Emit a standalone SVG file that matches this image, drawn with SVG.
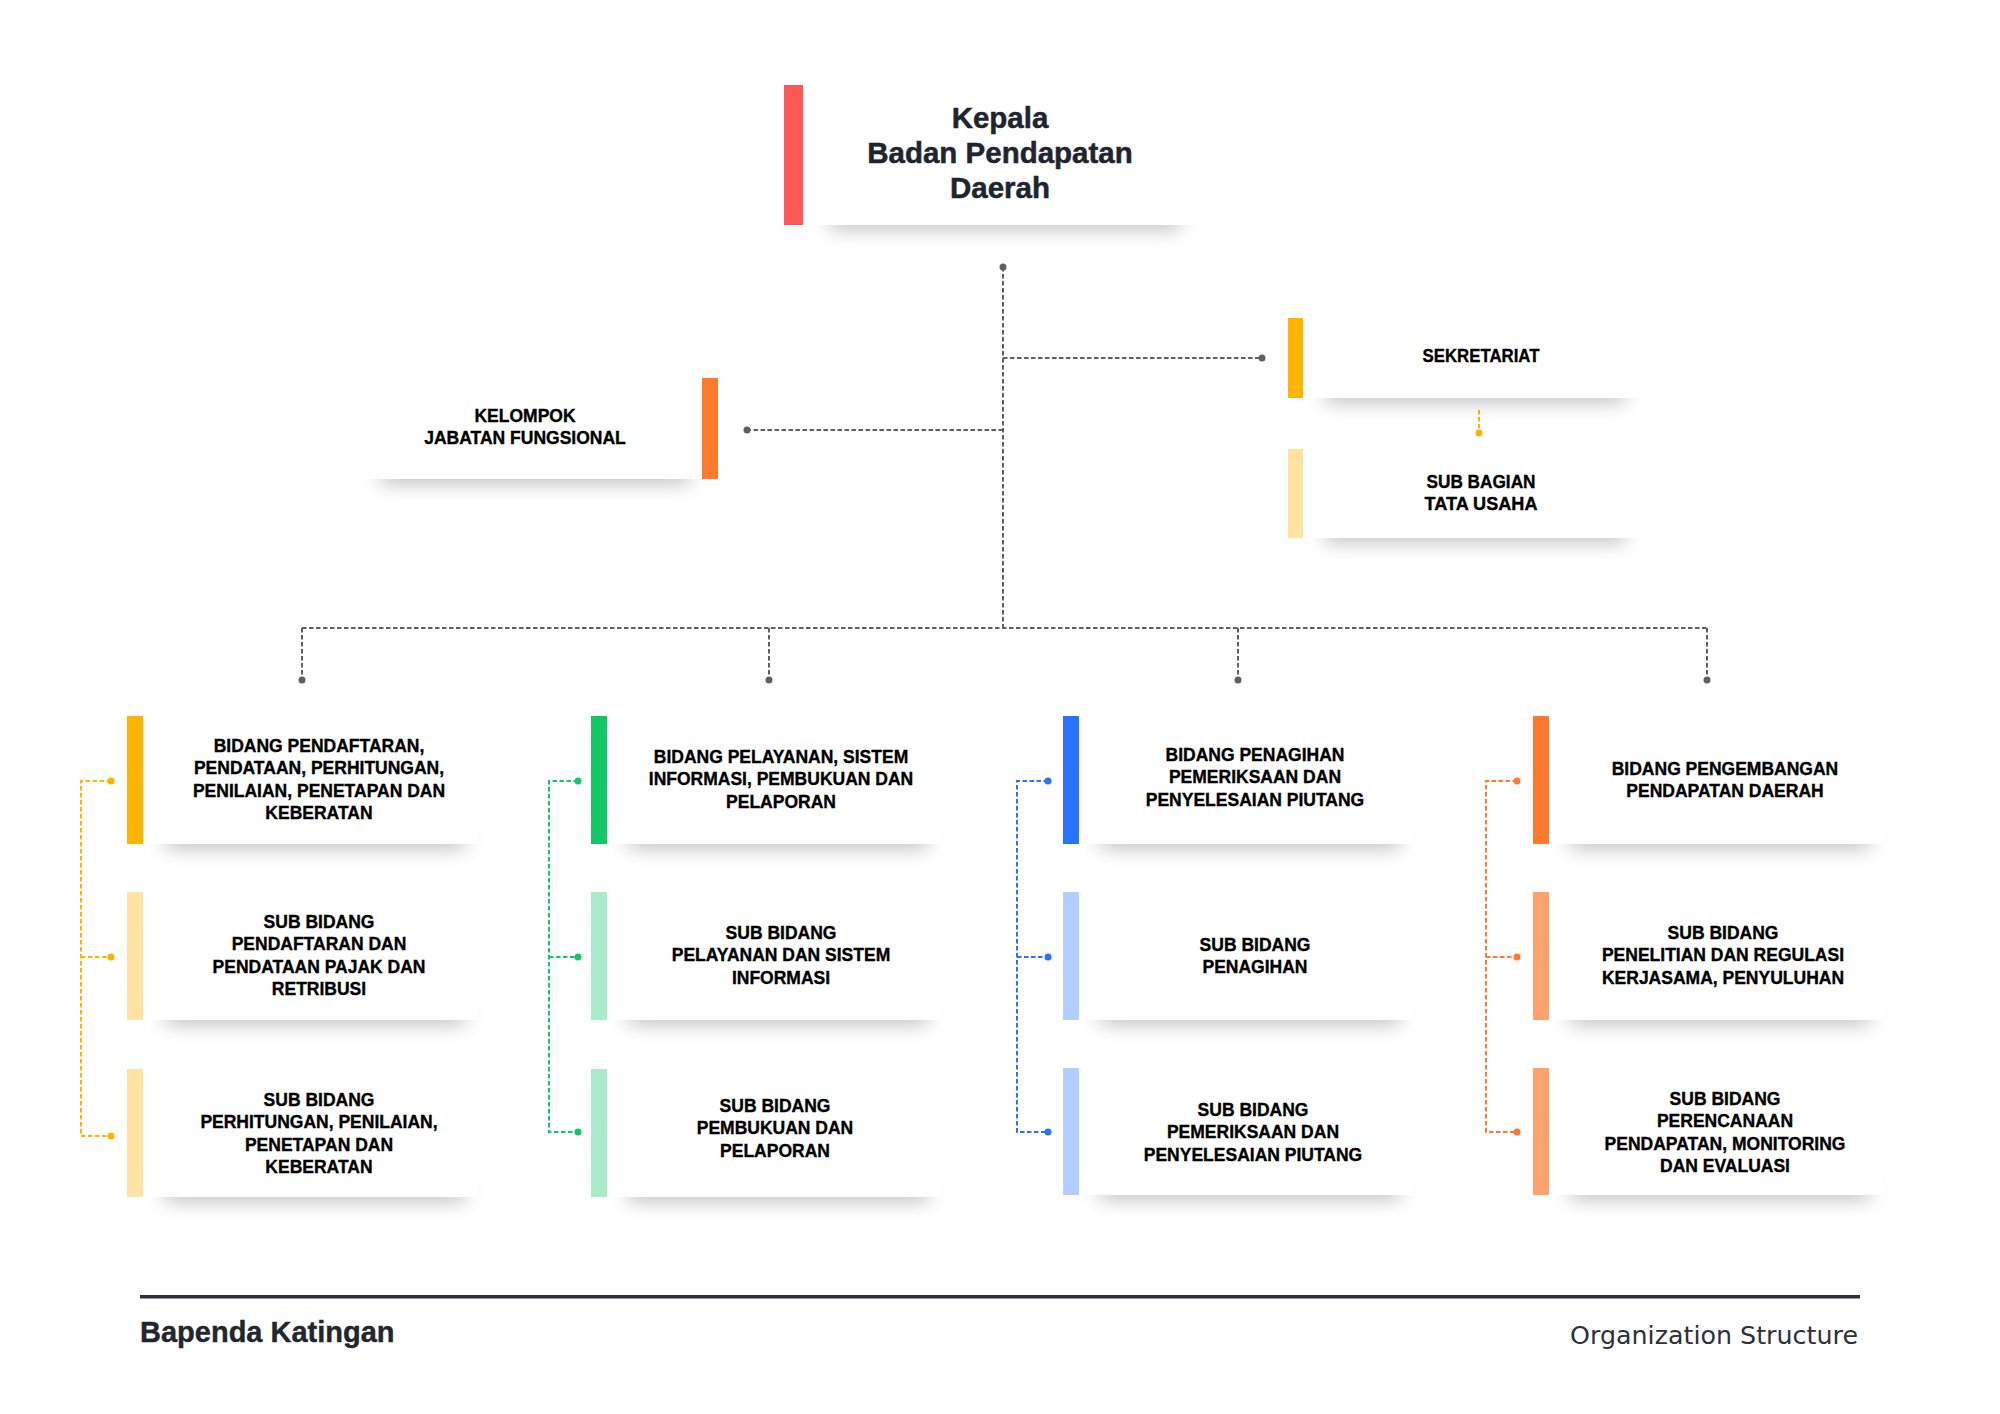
<svg xmlns="http://www.w3.org/2000/svg" width="2000" height="1414" viewBox="0 0 2000 1414">
<defs>
<filter id="sh" x="-20%" y="-200%" width="140%" height="500%"><feGaussianBlur stdDeviation="10"/></filter>
<style>
.card{fill:#fff}
.shd{fill:#000;opacity:.3;filter:url(#sh)}
.t{font-family:"Liberation Sans",Arial,sans-serif;font-weight:700;font-size:17.5px;fill:#000;stroke:#000;stroke-width:.35;text-anchor:middle}
.tc{font-family:"Liberation Sans",Arial,sans-serif;font-weight:700;font-size:18.5px;fill:#000;stroke:#000;stroke-width:.35;text-anchor:middle}
.title{font-family:"Liberation Sans",Arial,sans-serif;font-weight:700;font-size:29.5px;fill:#1f252e;stroke:#1f252e;stroke-width:.5;text-anchor:middle}
.gl{fill:none;stroke:#5f6063;stroke-width:2;stroke-dasharray:4.5 2.5}
.gd{fill:#5f6063}
.yl{fill:none;stroke:#FFB500;stroke-width:2;stroke-dasharray:4.5 2.5}
.yd{fill:#FFB500}
.grl{fill:none;stroke:#12C765;stroke-width:2;stroke-dasharray:4.5 2.5}
.grd{fill:#12C765}
.bl{fill:none;stroke:#2A72FF;stroke-width:2;stroke-dasharray:4.5 2.5}
.bd{fill:#2A72FF}
.ol{fill:none;stroke:#FF7A2E;stroke-width:2;stroke-dasharray:4.5 2.5}
.od{fill:#FF7A2E}
</style>
</defs>
<rect width="2000" height="1414" fill="#fff"/>

<g id="connectors">
<path class="gl" d="M1003 267V628M1003 358H1262M1003 430H747M302 628H1707M302 628V680M769 628V680M1238 628V680M1707 628V680"/>
<circle class="gd" cx="1003" cy="267" r="3.5"/>
<circle class="gd" cx="1262" cy="358" r="3.5"/>
<circle class="gd" cx="747" cy="430" r="3.5"/>
<circle class="gd" cx="302" cy="680" r="3.5"/>
<circle class="gd" cx="769" cy="680" r="3.5"/>
<circle class="gd" cx="1238" cy="680" r="3.5"/>
<circle class="gd" cx="1707" cy="680" r="3.5"/>
<path class="yl" d="M1479 410V433"/>
<circle class="yd" cx="1479" cy="433" r="3.5"/>
<path class="yl" d="M111 781H81V1136H111M81 957H111"/>
<circle class="yd" cx="111" cy="781" r="3.5"/><circle class="yd" cx="111" cy="957" r="3.5"/><circle class="yd" cx="111" cy="1136" r="3.5"/>
<path class="grl" d="M578 781H549V1132H578M549 957H578"/>
<circle class="grd" cx="578" cy="781" r="3.5"/><circle class="grd" cx="578" cy="957" r="3.5"/><circle class="grd" cx="578" cy="1132" r="3.5"/>
<path class="bl" d="M1048 781H1017V1132H1048M1017 957H1048"/>
<circle class="bd" cx="1048" cy="781" r="3.5"/><circle class="bd" cx="1048" cy="957" r="3.5"/><circle class="bd" cx="1048" cy="1132" r="3.5"/>
<path class="ol" d="M1517 781H1486V1132H1517M1486 957H1517"/>
<circle class="od" cx="1517" cy="781" r="3.5"/><circle class="od" cx="1517" cy="957" r="3.5"/><circle class="od" cx="1517" cy="1132" r="3.5"/>
</g>

<g id="kepala">
<rect class="shd" x="830" y="212" width="350" height="16"/>
<rect class="card" x="803" y="85" width="400" height="140"/>
<rect x="784" y="85" width="19" height="140" fill="#FF5757"/>
<text class="title" x="1000" y="128">Kepala</text>
<text class="title" x="1000" y="163">Badan Pendapatan</text>
<text class="title" x="1000" y="198">Daerah</text>
</g>

<g id="kelompok">
<rect class="shd" x="380" y="466" width="310" height="16"/>
<rect class="card" x="355" y="378" width="347" height="101"/>
<rect x="702" y="378" width="16" height="101" fill="#FF7A2E"/>
<text class="t" x="525" y="422">KELOMPOK</text>
<text class="t" x="525" y="444">JABATAN FUNGSIONAL</text>
</g>

<g id="sekretariat">
<rect class="shd" x="1325" y="385" width="300" height="16"/>
<rect class="card" x="1303" y="318" width="345" height="80"/>
<rect x="1288" y="318" width="15" height="80" fill="#FFB500"/>
<text class="tc" x="1481" y="362" textLength="117" lengthAdjust="spacingAndGlyphs">SEKRETARIAT</text>
</g>

<g id="subbagian">
<rect class="shd" x="1325" y="525" width="300" height="16"/>
<rect class="card" x="1303" y="449" width="345" height="89"/>
<rect x="1288" y="449" width="15" height="89" fill="#FFE3A3"/>
<text class="tc" x="1481" y="488" textLength="109" lengthAdjust="spacingAndGlyphs">SUB BAGIAN</text>
<text class="tc" x="1481" y="510" textLength="113" lengthAdjust="spacingAndGlyphs">TATA USAHA</text>
</g>

<!-- Column 1 -->
<g id="bidang1">
<rect class="shd" x="165" y="831" width="300" height="16"/>
<rect class="card" x="143" y="716" width="335" height="128"/>
<rect x="127" y="716" width="16" height="128" fill="#FFB500"/>
<text class="t" x="319" y="752">BIDANG PENDAFTARAN,</text>
<text class="t" x="319" y="774.4">PENDATAAN, PERHITUNGAN,</text>
<text class="t" x="319" y="796.8">PENILAIAN, PENETAPAN DAN</text>
<text class="t" x="319" y="819.2">KEBERATAN</text>
</g>
<g id="sub1a">
<rect class="shd" x="165" y="1007" width="300" height="16"/>
<rect class="card" x="143" y="892" width="335" height="128"/>
<rect x="127" y="892" width="16" height="128" fill="#FFE3A3"/>
<text class="t" x="319" y="928">SUB BIDANG</text>
<text class="t" x="319" y="950.4">PENDAFTARAN DAN</text>
<text class="t" x="319" y="972.8">PENDATAAN PAJAK DAN</text>
<text class="t" x="319" y="995.2">RETRIBUSI</text>
</g>
<g id="sub1b">
<rect class="shd" x="165" y="1184" width="300" height="16"/>
<rect class="card" x="143" y="1069" width="335" height="128"/>
<rect x="127" y="1069" width="16" height="128" fill="#FFE3A3"/>
<text class="t" x="319" y="1106">SUB BIDANG</text>
<text class="t" x="319" y="1128.4">PERHITUNGAN, PENILAIAN,</text>
<text class="t" x="319" y="1150.8">PENETAPAN DAN</text>
<text class="t" x="319" y="1173.2">KEBERATAN</text>
</g>

<!-- Column 2 -->
<g id="bidang2">
<rect class="shd" x="628" y="831" width="300" height="16"/>
<rect class="card" x="607" y="716" width="335" height="128"/>
<rect x="591" y="716" width="16" height="128" fill="#12C765"/>
<text class="t" x="781" y="763">BIDANG PELAYANAN, SISTEM</text>
<text class="t" x="781" y="785.4">INFORMASI, PEMBUKUAN DAN</text>
<text class="t" x="781" y="807.8">PELAPORAN</text>
</g>
<g id="sub2a">
<rect class="shd" x="628" y="1007" width="300" height="16"/>
<rect class="card" x="607" y="892" width="335" height="128"/>
<rect x="591" y="892" width="16" height="128" fill="#A9EBCB"/>
<text class="t" x="781" y="939">SUB BIDANG</text>
<text class="t" x="781" y="961.4">PELAYANAN DAN SISTEM</text>
<text class="t" x="781" y="983.8">INFORMASI</text>
</g>
<g id="sub2b">
<rect class="shd" x="628" y="1184" width="300" height="16"/>
<rect class="card" x="607" y="1069" width="335" height="128"/>
<rect x="591" y="1069" width="16" height="128" fill="#A9EBCB"/>
<text class="t" x="775" y="1112">SUB BIDANG</text>
<text class="t" x="775" y="1134.4">PEMBUKUAN DAN</text>
<text class="t" x="775" y="1156.8">PELAPORAN</text>
</g>

<!-- Column 3 -->
<g id="bidang3">
<rect class="shd" x="1100" y="831" width="300" height="16"/>
<rect class="card" x="1079" y="716" width="335" height="128"/>
<rect x="1063" y="716" width="16" height="128" fill="#2A72FF"/>
<text class="t" x="1255" y="761">BIDANG PENAGIHAN</text>
<text class="t" x="1255" y="783.4">PEMERIKSAAN DAN</text>
<text class="t" x="1255" y="805.8">PENYELESAIAN PIUTANG</text>
</g>
<g id="sub3a">
<rect class="shd" x="1100" y="1007" width="300" height="16"/>
<rect class="card" x="1079" y="892" width="335" height="128"/>
<rect x="1063" y="892" width="16" height="128" fill="#B3CDFF"/>
<text class="t" x="1255" y="951">SUB BIDANG</text>
<text class="t" x="1255" y="973.4">PENAGIHAN</text>
</g>
<g id="sub3b">
<rect class="shd" x="1100" y="1182" width="300" height="16"/>
<rect class="card" x="1079" y="1068" width="335" height="127"/>
<rect x="1063" y="1068" width="16" height="127" fill="#B3CDFF"/>
<text class="t" x="1253" y="1116">SUB BIDANG</text>
<text class="t" x="1253" y="1138.4">PEMERIKSAAN DAN</text>
<text class="t" x="1253" y="1160.8">PENYELESAIAN PIUTANG</text>
</g>

<!-- Column 4 -->
<g id="bidang4">
<rect class="shd" x="1570" y="831" width="300" height="16"/>
<rect class="card" x="1549" y="716" width="335" height="128"/>
<rect x="1533" y="716" width="16" height="128" fill="#FF7A2E"/>
<text class="t" x="1725" y="775">BIDANG PENGEMBANGAN</text>
<text class="t" x="1725" y="797.4">PENDAPATAN DAERAH</text>
</g>
<g id="sub4a">
<rect class="shd" x="1570" y="1007" width="300" height="16"/>
<rect class="card" x="1549" y="892" width="335" height="128"/>
<rect x="1533" y="892" width="16" height="128" fill="#FFA26E"/>
<text class="t" x="1723" y="939">SUB BIDANG</text>
<text class="t" x="1723" y="961.4">PENELITIAN DAN REGULASI</text>
<text class="t" x="1723" y="983.8">KERJASAMA, PENYULUHAN</text>
</g>
<g id="sub4b">
<rect class="shd" x="1570" y="1182" width="300" height="16"/>
<rect class="card" x="1549" y="1068" width="335" height="127"/>
<rect x="1533" y="1068" width="16" height="127" fill="#FFA26E"/>
<text class="t" x="1725" y="1105">SUB BIDANG</text>
<text class="t" x="1725" y="1127.4">PERENCANAAN</text>
<text class="t" x="1725" y="1149.8">PENDAPATAN, MONITORING</text>
<text class="t" x="1725" y="1172.2">DAN EVALUASI</text>
</g>

<g id="footer">
<rect x="140" y="1295" width="1720" height="3.5" fill="#2d3138"/>
<text x="140" y="1342" font-family="Liberation Sans, Arial, sans-serif" font-weight="700" font-size="29" fill="#22262d" stroke="#22262d" stroke-width=".4">Bapenda Katingan</text>
<text x="1858" y="1344" font-family="DejaVu Sans, sans-serif" font-size="24" fill="#2d3138" text-anchor="end" textLength="288" lengthAdjust="spacingAndGlyphs">Organization Structure</text>
</g>
</svg>
